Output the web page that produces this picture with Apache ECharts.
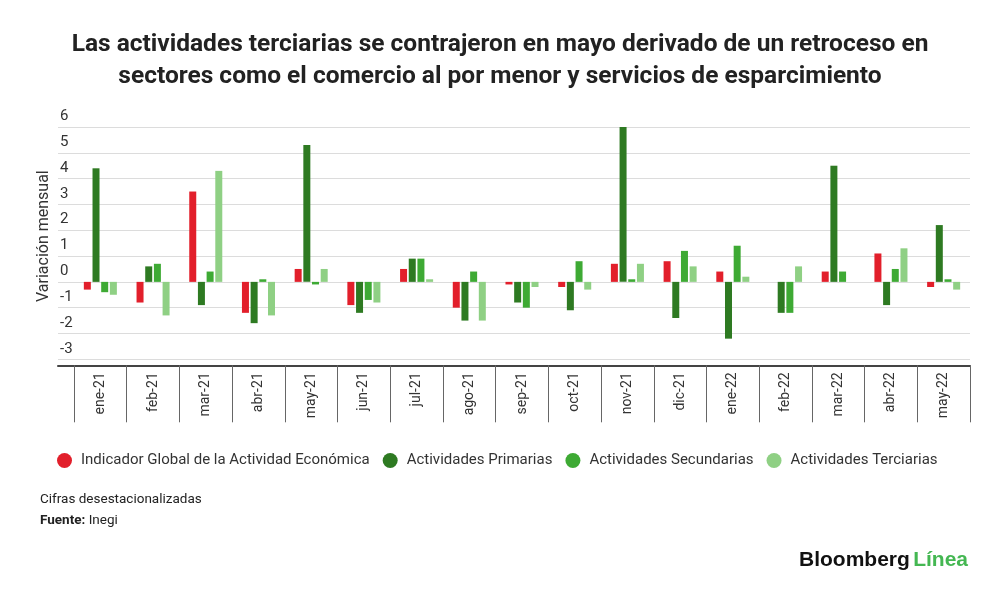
<!DOCTYPE html>
<html>
<head>
<meta charset="utf-8">
<script src="https://cdn.jsdelivr.net/npm/echarts@6/dist/echarts.min.js"></script>
<style>
html,body{margin:0;padding:0;background:#fff;}
#c{width:1000px;height:590px;}
</style>
</head>
<body>
<div id="c"></div>
<script>
const categories = ['ene-21','feb-21','mar-21','abr-21','may-21','jun-21','jul-21','ago-21','sep-21','oct-21','nov-21','dic-21','ene-22','feb-22','mar-22','abr-22','may-22'];
const igae =        [-0.3,-0.8, 3.5,-1.2, 0.5,-0.9, 0.5,-1.0,-0.1,-0.2, 0.7, 0.8, 0.4, 0.0, 0.4, 1.1,-0.2];
const primarias =   [ 4.4, 0.6,-0.9,-1.6, 5.3,-1.2, 0.9,-1.5,-0.8,-1.1, 6.0,-1.4,-2.2,-1.2, 4.5,-0.9, 2.2];
const secundarias = [-0.4, 0.7, 0.4, 0.1,-0.1,-0.7, 0.9, 0.4,-1.0, 0.8, 0.1, 1.2, 1.4,-1.2, 0.4, 0.5, 0.1];
const terciarias =  [-0.5,-1.3, 4.3,-1.3, 0.5,-0.8, 0.1,-1.5,-0.2,-0.3, 0.7, 0.6, 0.2, 0.6, 0.0, 1.3,-0.3];
const seriesNames = ['Indicador Global de la Actividad Económica','Actividades Primarias','Actividades Secundarias','Actividades Terciarias'];
const colors = ['#e21f2b','#2e7a22','#3eaa34','#8fd084'];

const chart = echarts.init(document.getElementById('c'));
const font = 'Roboto, "Noto Sans", sans-serif';
const mk = (name, data, color) => ({
  name, type:'bar', data, xAxisIndex:0, yAxisIndex:0,
  barWidth:7, barGap:'24%',
  itemStyle:{color}
});
chart.setOption({
  animation:false,
  color: colors,
  textStyle:{fontFamily:font},
  title:{
    text:'Las actividades terciarias se contrajeron en mayo derivado de un retroceso en\nsectores como el comercio al por menor y servicios de esparcimiento',
    left:'center', top:24,
    textStyle:{fontSize:24.5, fontWeight:'bold', color:'#222', lineHeight:32, align:'center', fontFamily:font}
  },
  legend:{
    left:52, top:448, icon:'circle', itemWidth:15, itemHeight:15, itemGap:13,
    textStyle:{fontSize:15, color:'#333', fontFamily:font, padding:[0,0,0,4]},
    data: seriesNames
  },
  grid:[
    {left:74, right:30, top:127, bottom:230.7},
    {left:58, right:30, top:127, bottom:230.7}
  ],
  xAxis:[
    {type:'category', gridIndex:0, data:categories, offset:6,
     axisLine:{show:false, onZero:false},
     axisTick:{show:true, length:57, lineStyle:{color:'#666', width:1}},
     axisLabel:{rotate:90, fontSize:14, color:'#333', margin:7, fontFamily:font},
     splitLine:{show:false}},
    {type:'value', gridIndex:1, min:0, max:1, offset:6, position:'bottom',
     axisLine:{show:true, onZero:false, lineStyle:{color:'#444', width:2}},
     axisTick:{show:false}, axisLabel:{show:false}, splitLine:{show:false}}
  ],
  yAxis:[
    {type:'value', gridIndex:0, min:-3, max:6, interval:1,
     name:'Variación mensual', nameLocation:'middle', nameGap:22, nameRotate:90, nameMoveOverlap:false,
     nameTextStyle:{fontSize:16, color:'#333', fontFamily:font, padding:[0,0,0,14]},
     axisLine:{show:false}, axisTick:{show:false},
     axisLabel:{align:'left', margin:14, verticalAlign:'bottom', padding:[0,0,3,0], fontSize:15, color:'#333', fontFamily:font},
     splitLine:{show:false}},
    {type:'value', gridIndex:1, min:-3, max:6, interval:1,
     axisLine:{show:false}, axisTick:{show:false}, axisLabel:{show:false},
     splitLine:{show:true, lineStyle:{color:'#dcdcdc', width:1}}}
  ],
  series:[
    mk(seriesNames[0], igae, colors[0]),
    mk(seriesNames[1], primarias, colors[1]),
    mk(seriesNames[2], secundarias, colors[2]),
    mk(seriesNames[3], terciarias, colors[3])
  ],
  graphic:[
    {type:'text', left:40, top:493, style:{text:'Cifras desestacionalizadas', fontSize:13.5, fill:'#222', fontFamily:font}},
    {type:'text', left:40, top:514, style:{text:'{b|Fuente:} Inegi', fontSize:13.5, fill:'#222', fontFamily:font, rich:{b:{fontWeight:'bold', fontSize:13.5, fill:'#222', fontFamily:font}}}},
    {type:'text', left:799, top:550, style:{text:'{a|Bloomberg} {g|Línea}', rich:{
      a:{fontSize:21, fontWeight:'bold', fill:'#111', fontFamily:'"Liberation Sans", Arial, sans-serif'},
      g:{fontSize:21, fontWeight:'bold', fill:'#44b752', fontFamily:'"Liberation Sans", Arial, sans-serif'}}}}
  ]
});
</script>
</body>
</html>
